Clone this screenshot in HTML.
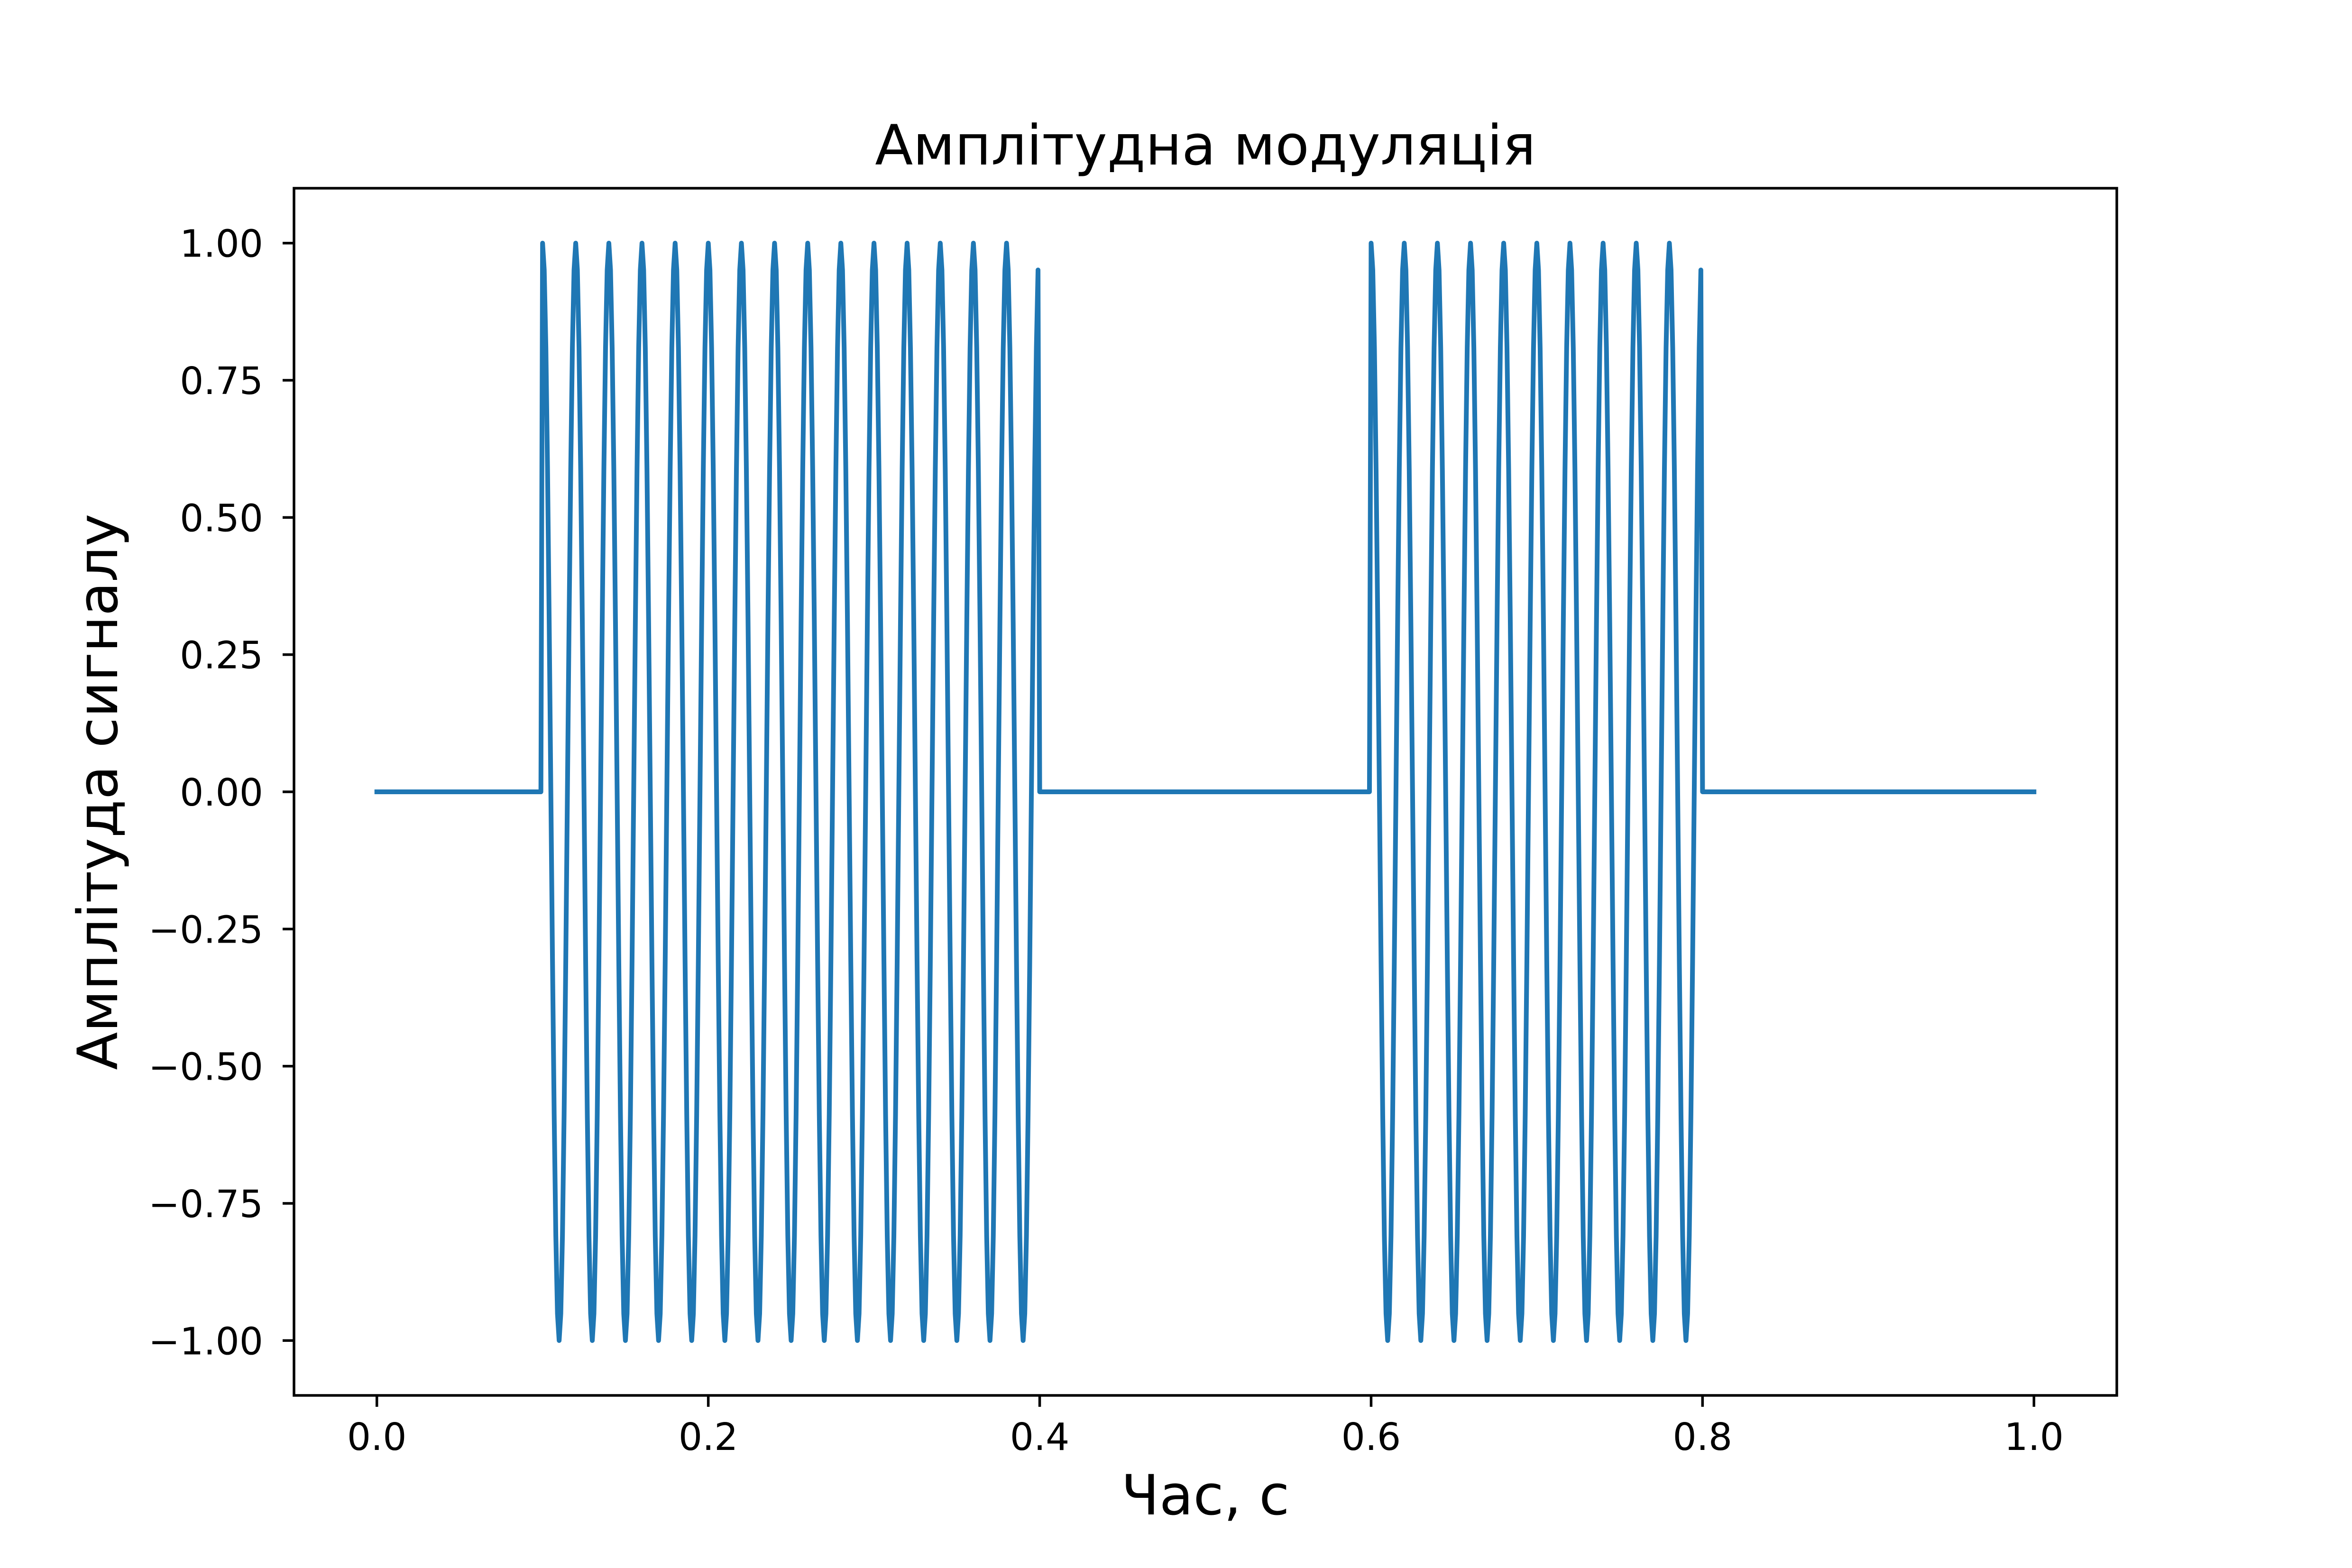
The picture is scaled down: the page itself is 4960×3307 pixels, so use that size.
<!DOCTYPE html>
<html><head><meta charset="utf-8"><style>
html,body{margin:0;padding:0;background:#fff;}
svg{display:block;}
text{font-family:"DejaVu Sans","Liberation Sans",sans-serif;fill:#000;}
</style></head><body>
<svg id="chart" width="4960" height="3307" viewBox="0 0 4960 3307" xmlns="http://www.w3.org/2000/svg">
<rect x="0" y="0" width="4960" height="3307" fill="#fff"/>
<text x="2542" y="347" font-size="117" text-anchor="middle">Амплітудна модуляція</text>
<text x="2542" y="3194" font-size="117" text-anchor="middle">Час, с</text>
<text transform="translate(247,1670) rotate(-90)" x="0" y="0" font-size="117" text-anchor="middle">Амплітуда сигналу</text>
<g id="plot"></g>
<rect x="620" y="397" width="3844" height="2546" fill="none" stroke="#000" stroke-width="5.5"/>
</svg>
<script>
const xTicks = [0.0, 0.2, 0.4, 0.6, 0.8, 1.0];
const xTickLabels = ["0.0", "0.2", "0.4", "0.6", "0.8", "1.0"];
const yTicks = [1.0, 0.75, 0.5, 0.25, 0, -0.25, -0.5, -0.75, -1.0];
const yTickLabels = ["1.00", "0.75", "0.50", "0.25", "0.00", "\u22120.25", "\u22120.50", "\u22120.75", "\u22121.00"];
const carrierFreq = [50];
const sampleCount = [1000];
const onWindowStart = [0.1, 0.6];
const onWindowEnd = [0.4, 0.8];

const L = 620, R = 4464, T = 397, B = 2943;
const xMin = -0.05, xMax = 1.05, yMin = -1.1, yMax = 1.1;
const sx = v => L + (v - xMin) / (xMax - xMin) * (R - L);
const sy = v => B - (v - yMin) / (yMax - yMin) * (B - T);
const NS = "http://www.w3.org/2000/svg";
const svg = document.getElementById('chart');
const plot = document.getElementById('plot');

const n = sampleCount[0];
let pts = [];
for (let i = 0; i <= n; i++) {
  const t = i / n;
  let on = false;
  for (let k = 0; k < onWindowStart.length; k++) {
    if (i >= Math.round(onWindowStart[k] * n) && i < Math.round(onWindowEnd[k] * n)) on = true;
  }
  const v = on ? Math.cos(2 * Math.PI * carrierFreq[0] * t) : 0;
  pts.push(sx(t).toFixed(2) + "," + sy(v).toFixed(2));
}
const line = document.createElementNS(NS, 'polyline');


line.setAttribute('points', pts.join(' '));
line.setAttribute('fill', 'none');
line.setAttribute('stroke', '#1f77b4');
line.setAttribute('stroke-width', '10');
line.setAttribute('stroke-linejoin', 'round');
line.setAttribute('stroke-linecap', 'square');
plot.appendChild(line);

xTicks.forEach((v, i) => {
  const x = sx(v);
  const tk = document.createElementNS(NS, 'line');
  
  
  tk.setAttribute('x1', x); tk.setAttribute('x2', x);
  tk.setAttribute('y1', B); tk.setAttribute('y2', B + 24);
  tk.setAttribute('stroke', '#000'); tk.setAttribute('stroke-width', '5.5');
  svg.appendChild(tk);
  const tx = document.createElementNS(NS, 'text');
  
  
  tx.setAttribute('x', x); tx.setAttribute('y', 3058);
  tx.setAttribute('font-size', '79'); tx.setAttribute('text-anchor', 'middle');
  tx.textContent = xTickLabels[i];
  svg.appendChild(tx);
});
yTicks.forEach((v, i) => {
  const y = sy(v);
  const tk = document.createElementNS(NS, 'line');
  
  
  tk.setAttribute('x1', L - 24); tk.setAttribute('x2', L);
  tk.setAttribute('y1', y); tk.setAttribute('y2', y);
  tk.setAttribute('stroke', '#000'); tk.setAttribute('stroke-width', '5.5');
  svg.appendChild(tk);
  const tx = document.createElementNS(NS, 'text');
  
  
  tx.setAttribute('x', 555); tx.setAttribute('y', y + 29);
  tx.setAttribute('font-size', '79'); tx.setAttribute('text-anchor', 'end');
  tx.textContent = yTickLabels[i];
  svg.appendChild(tx);
});
</script>
</body></html>
